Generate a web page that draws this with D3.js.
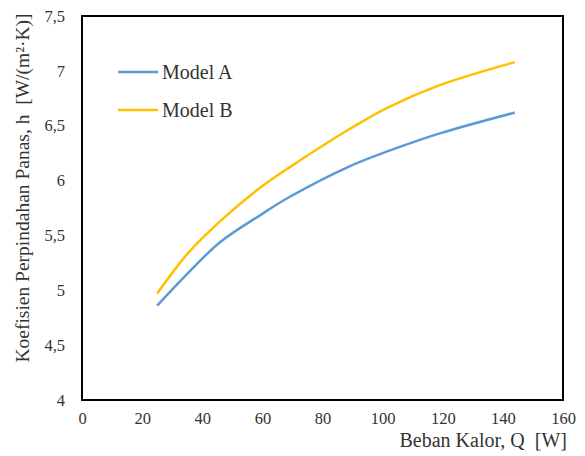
<!DOCTYPE html>
<html>
<head>
<meta charset="utf-8">
<script src="https://cdn.jsdelivr.net/npm/d3@7"></script>
<style>
  body { margin: 0; background: #fff; }
  svg text { font-family: "Liberation Serif", "DejaVu Serif", serif !important; fill: #333; }
</style>
</head>
<body>
<div id="chart"></div>
<script>
const qValues = [25, 35, 46, 59, 69, 89, 102, 119, 144];
const modelA = [4.86, 5.15, 5.44, 5.68, 5.85, 6.13, 6.27, 6.43, 6.62];
const modelB = [4.97, 5.33, 5.63, 5.93, 6.12, 6.47, 6.67, 6.87, 7.08];
const seriesNames = ["Model A", "Model B"];
const seriesColors = ["#5B9BD5", "#FFC000"];
const xTicks = [0, 20, 40, 60, 80, 100, 120, 140, 160];
const yTicks = [4, 4.5, 5, 5.5, 6, 6.5, 7, 7.5];

(function chart() {
  let width = 585, height = 456,
    margin = ({ top: 16, right: 22, bottom: 56, left: 82 });

  const svg = d3.select("#chart")
    .append("svg")
    .attr("width", width)
    .attr("height", height);

  let x = d3.scaleLinear([0, 160], [margin.left, width - margin.right]);
  let y = d3.scaleLinear([4, 7.5], [height - margin.bottom, margin.top]);

  const fmt = d => String(d).replace(".", ",");

  // frame
  svg.append("rect")
    .attr("x", margin.left)
    .attr("y", margin.top)
    .attr("width", width - margin.left - margin.right)
    .attr("height", height - margin.top - margin.bottom)
    .attr("fill", "none")
    .attr("stroke", "#000")
    .attr("stroke-width", 2);

  svg.append("g")
    .attr("transform", `translate(0,${height - margin.bottom})`)
    .call(d3.axisBottom(x).tickValues(xTicks).tickSize(0).tickPadding(12))
    .call(g => g.select(".domain").remove())
    .selectAll("text")
    .style("font-size", "16.5px");

  svg.append("g")
    .attr("transform", `translate(${margin.left},0)`)
    .call(d3.axisLeft(y).tickValues(yTicks).tickFormat(fmt).tickSize(0).tickPadding(17))
    .call(g => g.select(".domain").remove())
    .selectAll("text")
    .style("font-size", "16.5px");

  const line = d3.line()
    .x((d, i) => x(qValues[i]))
    .y(d => y(d))
    .curve(d3.curveCatmullRom.alpha(0.5));

  [modelA, modelB].forEach((vals, k) => {
    svg.append("path")
      .datum(vals)
      .attr("d", line)
      .attr("fill", "none")
      .attr("stroke", seriesColors[k])
      .attr("stroke-width", 2.5);
  });

  // legend
  seriesNames.forEach((name, k) => {
    let ly = 72 + k * 38;
    svg.append("line")
      .attr("x1", 118).attr("x2", 158)
      .attr("y1", ly).attr("y2", ly)
      .attr("stroke", seriesColors[k]).attr("stroke-width", 2.5);
    svg.append("text")
      .attr("x", 162).attr("y", ly + 7)
      .style("font-size", "20px")
      .text(name);
  });

  // axis titles
  svg.append("text")
    .attr("x", 567).attr("y", 447)
    .attr("text-anchor", "end")
    .style("font-size", "20px")
    .attr("xml:space", "preserve")
    .text("Beban Kalor, Q  [W]");

  svg.append("text")
    .attr("transform", "translate(29,188) rotate(-90)")
    .attr("text-anchor", "middle")
    .style("font-size", "19.5px")
    .attr("xml:space", "preserve")
    .text("Koefisien Perpindahan Panas, h  [W/(m²·K)]");
})();
</script>
</body>
</html>
